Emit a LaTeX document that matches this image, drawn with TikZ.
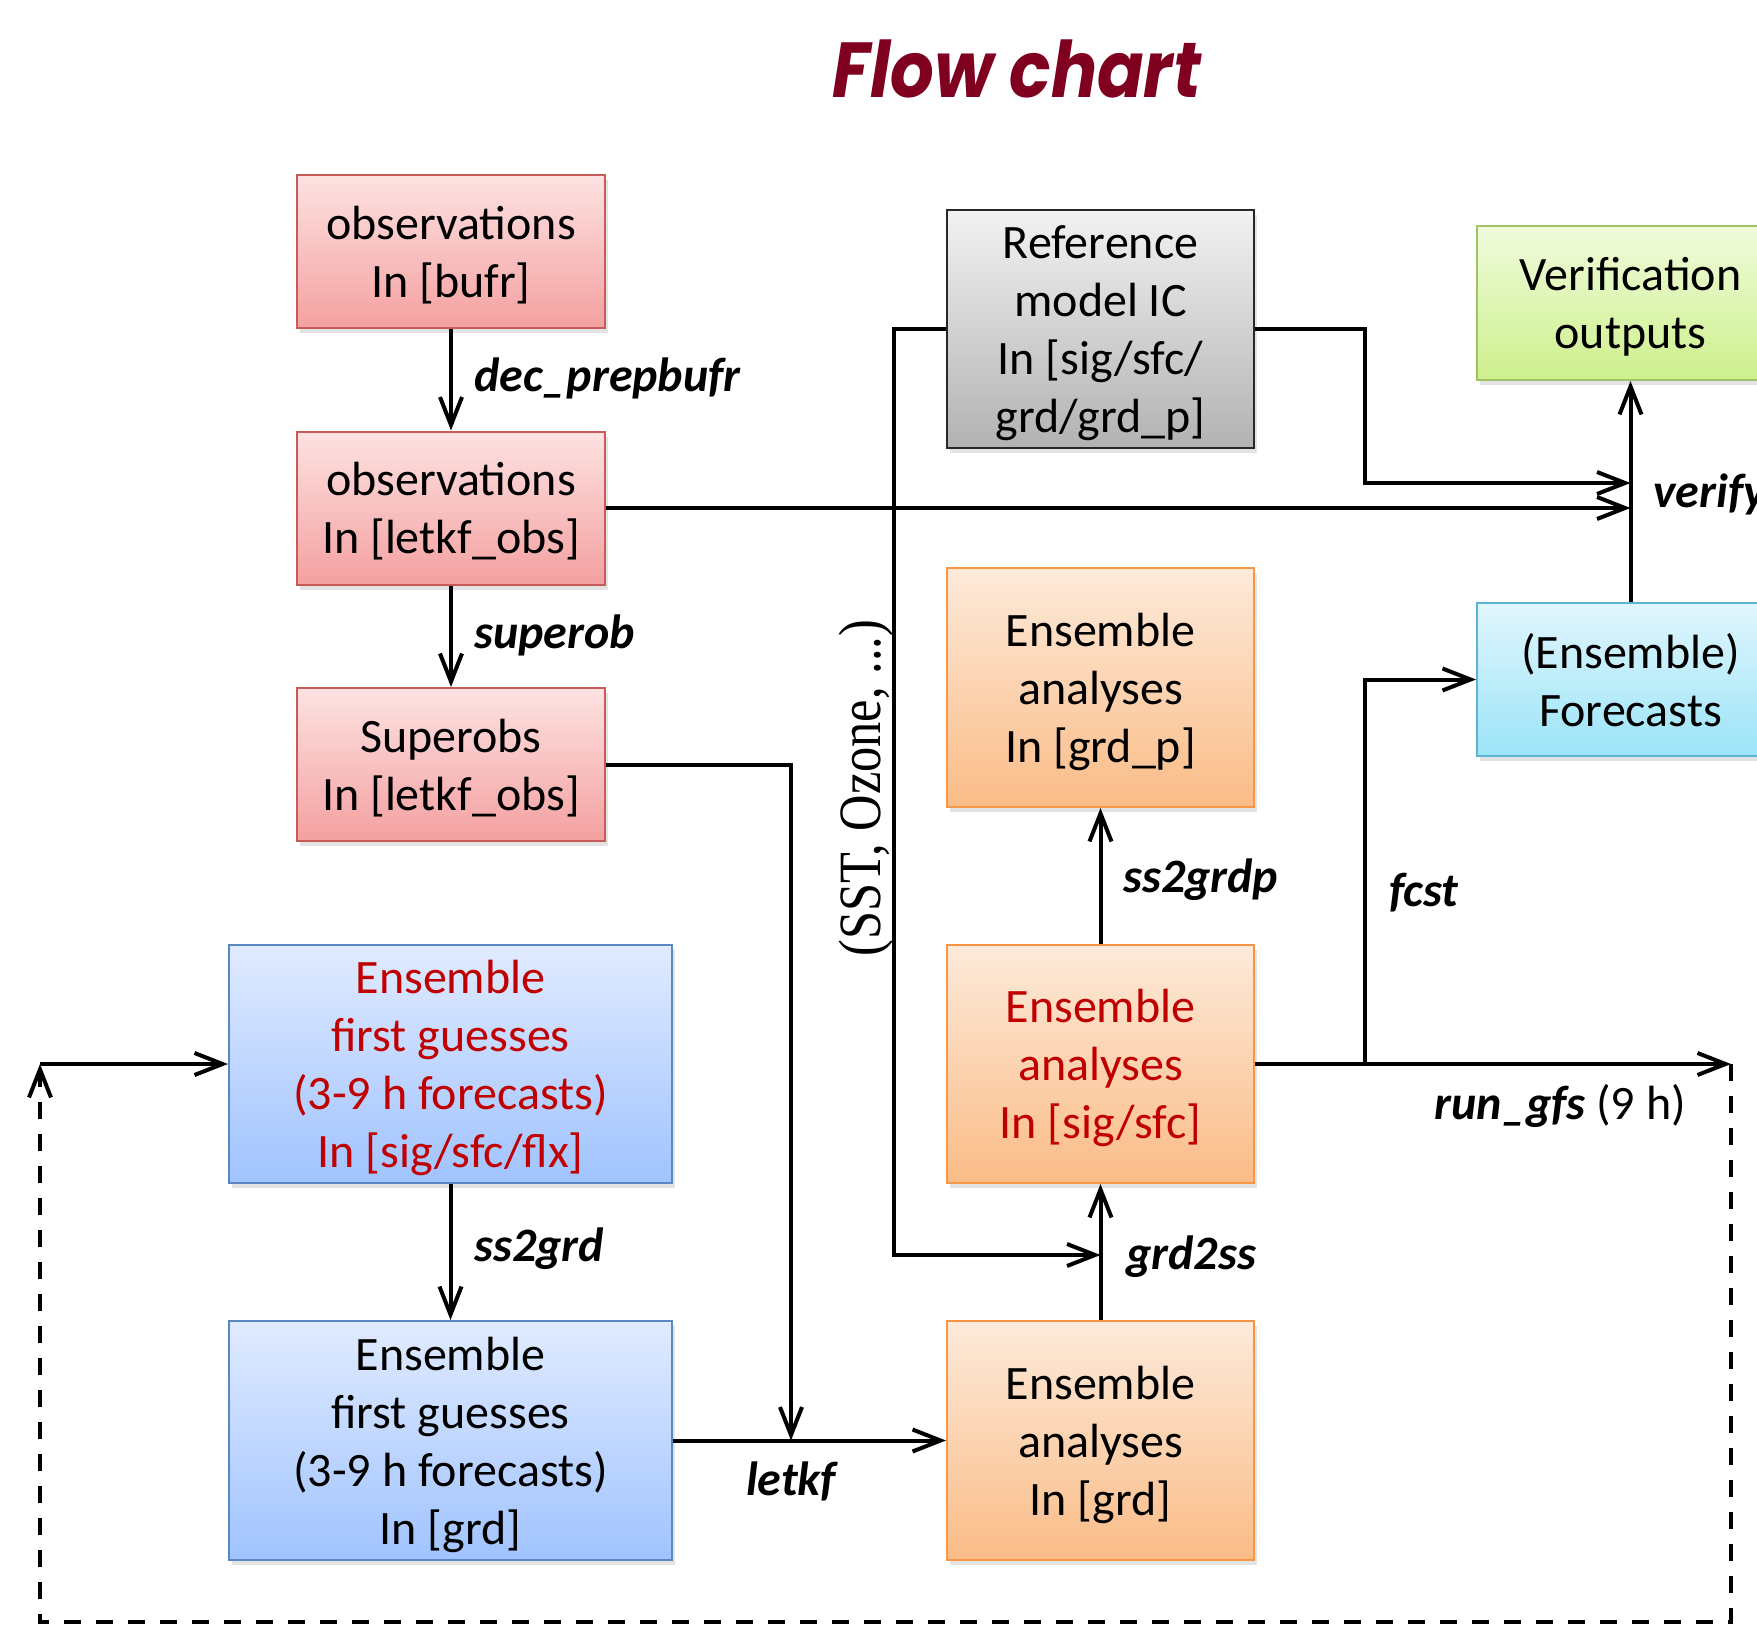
\documentclass[tikz,border=0pt]{standalone}
\usepackage{fontspec}
\setmainfont{Carlito}
\newfontfamily\titlefont{Poppins}
\newfontfamily\vertfont{Liberation Serif}
\usetikzlibrary{arrows.meta,shadows}
\definecolor{titlered}{RGB}{128,0,32}
\definecolor{redT}{RGB}{253,226,226}
\definecolor{redB}{RGB}{244,160,160}
\definecolor{redD}{RGB}{200,90,88}
\definecolor{grayT}{RGB}{242,242,242}
\definecolor{grayB}{RGB}{178,178,178}
\definecolor{grayD}{RGB}{40,40,40}
\definecolor{greenT}{RGB}{240,251,220}
\definecolor{greenB}{RGB}{205,240,140}
\definecolor{greenD}{RGB}{160,195,100}
\definecolor{cyanT}{RGB}{225,246,253}
\definecolor{cyanB}{RGB}{155,228,248}
\definecolor{cyanD}{RGB}{90,180,210}
\definecolor{oraT}{RGB}{253,234,218}
\definecolor{oraB}{RGB}{250,188,135}
\definecolor{oraD}{RGB}{247,150,70}
\definecolor{bluT}{RGB}{224,235,255}
\definecolor{bluB}{RGB}{160,195,255}
\definecolor{bluD}{RGB}{90,135,195}
\definecolor{txtred}{RGB}{192,0,0}
\tikzset{
  boxbase/.style={draw, line width=2pt, align=center, inner sep=0pt,
    minimum width=308, minimum height=153, text depth=0pt,
    font=\fontsize{48}{58}\selectfont,
    drop shadow={opacity=0.22, shadow xshift=3pt, shadow yshift=-5pt}},
  redbox/.style={boxbase, top color=redT, bottom color=redB, draw=redD},
  graybox/.style={boxbase, top color=grayT, bottom color=grayB, draw=grayD},
  greenbox/.style={boxbase, top color=greenT, bottom color=greenB, draw=greenD},
  cyanbox/.style={boxbase, top color=cyanT, bottom color=cyanB, draw=cyanD},
  orabox/.style={boxbase, top color=oraT, bottom color=oraB, draw=oraD},
  blubox/.style={boxbase, top color=bluT, bottom color=bluB, draw=bluD},
  arr/.style={line width=4pt, -{Straight Barb[length=28pt,width=22pt]}},
  dashline/.style={line width=4pt, dash pattern=on 17pt off 15pt},
  lbl/.style={font=\fontsize{48}{58}\selectfont\bfseries\itshape, inner sep=0pt}
}
\begin{document}
\begin{tikzpicture}[x=1pt,y=-1pt]
\clip (0,0) rectangle (1757,1627);
\fill[white] (0,0) rectangle (1757,1627);

\node[font=\titlefont\fontsize{78}{80}\selectfont\bfseries\itshape, text=titlered, inner sep=0pt] (title) at (1017,69) {\scalebox{0.88}[1]{Flow chart}};

% boxes
\node[redbox] (obsA) at (451,251.5) {observations\\In [bufr]};
\node[redbox] (obsB) at (451,508) {observations\\In [letkf\_obs]};
\node[redbox] (superobs) at (451,764.5) {Superobs\\In [letkf\_obs]};
\node[graybox, minimum width=307, minimum height=238.5] (ref) at (1100.5,329) {Reference\\model IC\\In [sig/sfc/\\grd/grd\_p]};
\node[greenbox, minimum width=307, minimum height=154] (verif) at (1630.5,303) {Verification\\outputs};
\node[cyanbox, minimum width=307, minimum height=153] (fcstbox) at (1630.5,679.5) {(Ensemble)\\Forecasts};
\node[orabox, minimum width=307, minimum height=239] (grdp) at (1100.5,687.5) {Ensemble\\analyses\\In [grd\_p]};
\node[orabox, minimum width=307, minimum height=238, text=txtred] (sigsfc) at (1100.5,1064) {Ensemble\\analyses\\In [sig/sfc]};
\node[orabox, minimum width=307, minimum height=239] (anagrd) at (1100.5,1440.5) {Ensemble\\analyses\\In [grd]};
\node[blubox, minimum width=443, minimum height=238, text=txtred] (fgsig) at (450.5,1064) {Ensemble\\first guesses\\(3-9 h forecasts)\\In [sig/sfc/flx]};
\node[blubox, minimum width=443, minimum height=239] (fggrd) at (450.5,1440.5) {Ensemble\\first guesses\\(3-9 h forecasts)\\In [grd]};

% helper coordinates
\coordinate (vA) at (1630.5,483);
\coordinate (gA) at (1100.5,1255);
\coordinate (lkA) at (791,1440.5);
\coordinate (rgA) at (1731,1064);
\coordinate (fjA) at (1365,1064);
\coordinate (dlA) at (40,1064);

% connectors
\draw[arr] (obsA) -- (obsB);
\draw[arr] (obsB) -- (superobs);
\draw[arr] (fgsig) -- (fggrd);
\draw[arr] (anagrd) -- (sigsfc);
\draw[arr] (sigsfc) -- (grdp);
\draw[arr] (fcstbox) -- (verif);
\draw[arr] (obsB.east) -- (obsB.east -| verif.south);
\draw[arr] (ref.east) -| (1365,483) -- (vA);
\draw[arr] (ref.west) -| (894,1255) -- (gA);
\draw[arr] (superobs.east) -| (lkA);
\draw[arr] (fggrd.east) -- (anagrd.west);
\draw[arr] (sigsfc.east) -- (rgA);
\draw[arr] (fjA) |- (fcstbox.west);
\draw[dashline, -{Straight Barb[length=28pt,width=22pt]}] (rgA) -- (1731,1622) -- (40,1622) -- (dlA);
\draw[arr] (dlA) -- (fgsig.west);

% labels
\node[lbl, anchor=west] (l1) at (474,378) {dec\_prepbufr};
\node[lbl, anchor=west] (l2) at (474,635) {superob};
\node[lbl, anchor=west] (l3) at (474,1249) {ss2grd};
\node[lbl] (l4) at (791,1481) {letkf};
\node[lbl, anchor=west] (l5) at (1126,1257) {grd2ss};
\node[lbl, anchor=west] (l6) at (1123,880) {ss2grdp};
\node[lbl, anchor=west] (l7) at (1389,893) {fcst};
\node[lbl, anchor=west] (l8) at (1653,494) {verify};
\node[font=\fontsize{48}{58}\selectfont, inner sep=0pt, anchor=east] (l9) at (1686,1106) {\bfseries\itshape run\_gfs\mdseries\upshape{} (9 h)};
\node[rotate=90, inner sep=0pt, font=\vertfont\fontsize{60}{60}\selectfont] (sst) at (866,788) {\scalebox{0.84}[1]{(SST, Ozone, ...)}};
\end{tikzpicture}
\end{document}
